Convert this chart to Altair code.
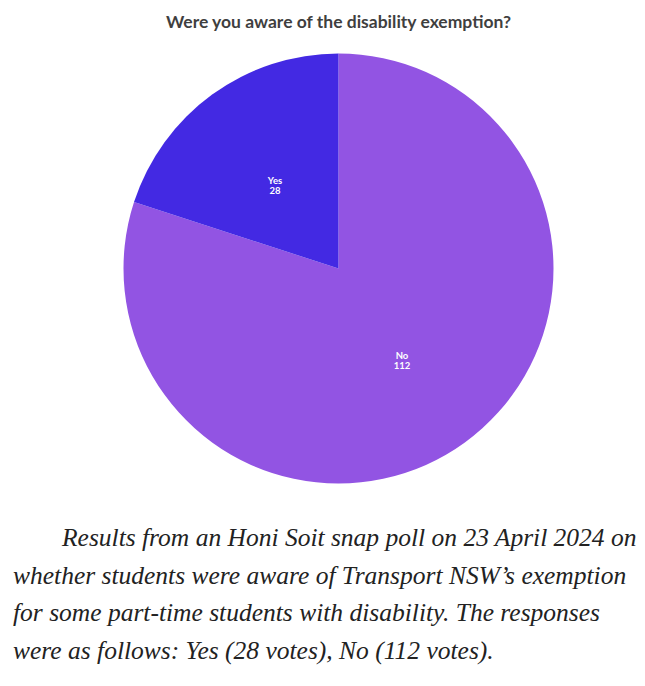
import altair as alt
import pandas as pd

# Data
answers = ["No", "Yes"]
votes = [112, 28]
colors = ["#9254E3", "#4329E3"]

title_text = "Were you aware of the disability exemption?"
caption_lines = [
    "Results from an Honi Soit snap poll on 23 April 2024 on",
    "whether students were aware of Transport NSW\u2019s exemption",
    "for some part-time students with disability. The responses",
    "were as follows: Yes (28 votes), No (112 votes).",
]

pie_df = pd.DataFrame({
    "answer": answers,
    "votes": votes,
    "order": list(range(len(answers))),
    "label": [f"{a}\n{v}" for a, v in zip(answers, votes)],
})
cap_df = pd.DataFrame({"line": caption_lines, "idx": list(range(len(caption_lines)))})

CX, CY = 330.5, 231.5
R = 215

base = alt.Chart(pie_df).encode(
    theta=alt.Theta("votes:Q", stack=True),
    order=alt.Order("order:Q"),
    x=alt.value(CX),
    y=alt.value(CY),
)

arc = base.mark_arc(outerRadius=R).encode(
    color=alt.Color("answer:N", scale=alt.Scale(domain=answers, range=colors), legend=None)
)

labels = base.mark_text(
    radius=108, font="Lato", fontWeight="bold", fontSize=9.5, color="white",
    lineBreak="\n", lineHeight=10, align="center", baseline="middle",
).encode(text="label:N")

cap_style = dict(
    font="Liberation Serif", fontStyle="italic", fontSize=25.5, color="#222222",
    align="left", baseline="alphabetic",
)
cap_y = alt.Y("idx:Q", scale=alt.Scale(domain=[0, 3], range=[509, 622]), axis=None)

cap_first = alt.Chart(cap_df[cap_df["idx"] == 0]).mark_text(**cap_style).encode(
    x=alt.value(54), y=cap_y, text="line:N",
)
cap_rest = alt.Chart(cap_df[cap_df["idx"] > 0]).mark_text(**cap_style).encode(
    x=alt.value(5), y=cap_y, text="line:N",
)

chart = alt.layer(arc, labels, cap_first, cap_rest).properties(
    width=629,
    height=620,
    padding={"top": 5, "left": 0, "right": 0, "bottom": 0},
    title=alt.TitleParams(
        title_text, font="Lato", fontWeight="bold", fontSize=17.5, color="#3f3f3f",
        anchor="middle", dx=16, offset=6,
    ),
).configure_view(stroke=None)

chart.save("out.html", embed_options={"renderer": "svg", "actions": False})
